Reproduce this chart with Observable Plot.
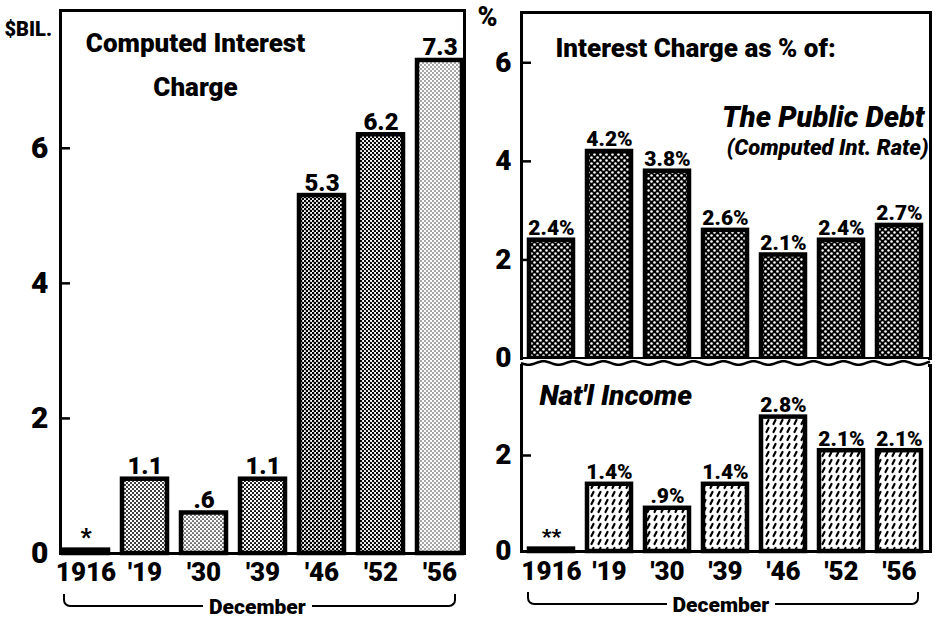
<!DOCTYPE html>
<html>
<head>
<meta charset="utf-8">
<script src="https://cdn.jsdelivr.net/npm/d3@7"></script>
<script src="https://cdn.jsdelivr.net/npm/@observablehq/plot@0.6"></script>
<style>
  html, body { margin: 0; padding: 0; background: #fff; }
  #page { position: relative; width: 938px; height: 619px; overflow: hidden; background: #fff;
          font-family: Roboto, "Liberation Sans", sans-serif; font-weight: 900; color: #000; }
  .brace { position: absolute; border: 2.5px solid #000; border-top: none; border-radius: 0 0 7px 7px; height: 11px; }
  .brace-label { position: absolute; background: #fff; padding: 0 6px; font-size: 21px; line-height: 22px; font-weight: 900; }
</style>
</head>
<body>
<div id="page">
  <svg width="0" height="0" style="position:absolute">
    <defs id="defs"></defs>
  </svg>
</div>
<script>
// ---------- data ----------
const years = ["1916", "'19", "'30", "'39", "'46", "'52", "'56"];
const chargeBil = [0.05, 1.1, 0.6, 1.1, 5.3, 6.2, 7.3];
const chargeLabels = ["*", "1.1", ".6", "1.1", "5.3", "6.2", "7.3"];
const debtPct = [2.4, 4.2, 3.8, 2.6, 2.1, 2.4, 2.7];
const debtLabels = ["2.4%", "4.2%", "3.8%", "2.6%", "2.1%", "2.4%", "2.7%"];
const incomePct = [0.05, 1.4, 0.9, 1.4, 2.8, 2.1, 2.1];
const incomeLabels = ["**", "1.4%", ".9%", "1.4%", "2.8%", "2.1%", "2.1%"];
const leftTicks = [0, 2, 4, 6];
const topTicks = [0, 2, 4, 6];
const bottomTicks = [0, 2];

const FONT = "Roboto, 'Liberation Sans', sans-serif";
const page = document.getElementById("page");
const intFmt = d3.format("d");

// ---------- fill patterns (halftone look) ----------
const defs = d3.select("#defs");
function dots(id, size, r) {
  const p = defs.append("pattern").attr("id", id).attr("width", size).attr("height", size)
    .attr("patternUnits", "userSpaceOnUse");
  p.append("rect").attr("width", size).attr("height", size).attr("fill", "#fff");
  [[size / 4, size / 4], [3 * size / 4, 3 * size / 4]].forEach(([cx, cy]) =>
    p.append("circle").attr("cx", cx).attr("cy", cy).attr("r", r).attr("fill", "#000"));
}
dots("h1916", 4, 1.45);
dots("h19", 4, 1.0);
dots("h30", 4, 0.85);
dots("h39", 4, 1.05);
dots("h46", 4, 1.35);
dots("h52", 4, 1.2);
dots("h56", 4, 0.65);
{ // crosshatch: black lattice with white holes
  const p = defs.append("pattern").attr("id", "hatch").attr("width", 6).attr("height", 6)
    .attr("patternUnits", "userSpaceOnUse");
  p.append("rect").attr("width", 6).attr("height", 6).attr("fill", "#000");
  [[1.5, 1.5], [4.5, 4.5]].forEach(([cx, cy]) =>
    p.append("circle").attr("cx", cx).attr("cy", cy).attr("r", 1.3).attr("fill", "#fff"));
}
{ // slanted dashes
  const p = defs.append("pattern").attr("id", "dash").attr("width", 7).attr("height", 8)
    .attr("patternUnits", "userSpaceOnUse");
  p.append("rect").attr("width", 7).attr("height", 8).attr("fill", "#fff");
  p.append("line").attr("x1", 2.5).attr("y1", 6).attr("x2", 4.5).attr("y2", 2)
    .attr("stroke", "#000").attr("stroke-width", 2.2).attr("stroke-linecap", "round");
}
const leftFills = ["url(#h1916)", "url(#h19)", "url(#h30)", "url(#h39)", "url(#h46)", "url(#h52)", "url(#h56)"];

const leftData = years.map((year, i) => ({year, value: chargeBil[i], label: chargeLabels[i]}));
const debtData = years.map((year, i) => ({year, value: debtPct[i], label: debtLabels[i]}));
const incomeData = years.map((year, i) => ({year, value: incomePct[i], label: incomeLabels[i]}));

const baseStyle = {fontFamily: FONT, fontWeight: 900, color: "#000", background: "transparent", overflow: "visible"};

function place(el, left, top) {
  el.style.position = "absolute";
  el.style.left = left + "px";
  el.style.top = top + "px";
  page.appendChild(el);
}

// ---------- left panel ----------
const left = Plot.plot({
  width: 470, height: 619,
  marginLeft: 60, marginTop: 10, marginRight: 6, marginBottom: 66,
  style: baseStyle,
  x: {domain: years, paddingInner: 0.24, paddingOuter: 0.04, label: null},
  y: {domain: [0, 8.04], label: null},
  color: {type: "ordinal", domain: years, range: leftFills},
  marks: [
    Plot.barY(leftData, {x: "year", y: "value", fill: "year", stroke: "#000", strokeWidth: 4.5}),
    Plot.text(leftData, {x: "year", y: "value", text: "label", dy: -5, lineAnchor: "bottom", fontSize: 24, fontWeight: 900}),
    Plot.axisX({tickSize: 0, tickPadding: 9, fontSize: 26, fontWeight: 900}),
    Plot.axisY(leftTicks, {tickSize: 0, tickPadding: 12, fontSize: 30, fontWeight: 900, tickFormat: intFmt}),
    Plot.axisY(leftTicks, {tickSize: 10, dx: 10, strokeWidth: 2.5, tickFormat: () => ""}),
    Plot.frame({strokeWidth: 3}),
    Plot.text(["Computed Interest\nCharge"], {frameAnchor: "top-left", dx: 135, dy: 10, textAnchor: "middle",
      lineAnchor: "top", lineHeight: 1.7, fontSize: 26, fontWeight: 900}),
    Plot.text(["$BIL."], {frameAnchor: "top-left", dx: -56, dy: 11, textAnchor: "start", lineAnchor: "top", fontSize: 20, fontWeight: 900})
  ]
});
place(left, 0, 0);

// ---------- right top panel (public debt) ----------
const rightTop = Plot.plot({
  width: 468, height: 362,
  marginLeft: 51, marginRight: 8, marginTop: 12, marginBottom: 4,
  style: baseStyle,
  x: {domain: years, paddingInner: 0.24, paddingOuter: 0.1, axis: null},
  y: {domain: [0, 7.02], label: null},
  marks: [
    Plot.barY(debtData, {x: "year", y: "value", fill: "url(#hatch)", stroke: "#000", strokeWidth: 4.5}),
    Plot.text(debtData, {x: "year", y: "value", text: "label", dy: -5, lineAnchor: "bottom", fontSize: 21, fontWeight: 900}),
    Plot.axisY(topTicks, {tickSize: 0, tickPadding: 10, fontSize: 28, fontWeight: 900, tickFormat: intFmt}),
    Plot.axisY(topTicks, {tickSize: 10, dx: 10, strokeWidth: 2.5, tickFormat: () => ""}),
    Plot.frame({strokeWidth: 3}),
    Plot.text(["%"], {frameAnchor: "top-left", dx: -44, dy: -6, textAnchor: "start", lineAnchor: "top", fontSize: 27, fontWeight: 900}),
    Plot.text(["Interest Charge as % of:"], {frameAnchor: "top-left", dx: 34, dy: 26, textAnchor: "start", lineAnchor: "top", fontSize: 26, fontWeight: 900}),
    Plot.text(["The Public Debt"], {frameAnchor: "top-right", dx: -6, dy: 94, textAnchor: "end", lineAnchor: "top", fontSize: 29, fontWeight: 900, fontStyle: "italic"}),
    Plot.text(["(Computed Int. Rate)"], {frameAnchor: "top-right", dx: -2, dy: 127, textAnchor: "end", lineAnchor: "top", fontSize: 22, fontWeight: 900, fontStyle: "italic"})
  ]
});
place(rightTop, 470, 0);

// ---------- right bottom panel (national income) ----------
const rightBottom = Plot.plot({
  width: 468, height: 257,
  marginLeft: 51, marginRight: 8, marginTop: 3, marginBottom: 68,
  style: baseStyle,
  x: {domain: years, paddingInner: 0.24, paddingOuter: 0.1, label: null},
  y: {domain: [0, 3.875], label: null},
  marks: [
    Plot.barY(incomeData, {x: "year", y: "value", fill: "url(#dash)", stroke: "#000", strokeWidth: 4.5}),
    Plot.text(incomeData, {x: "year", y: "value", text: "label", dy: -5, lineAnchor: "bottom", fontSize: 21, fontWeight: 900}),
    Plot.axisX({tickSize: 0, tickPadding: 10, fontSize: 26, fontWeight: 900}),
    Plot.axisY(bottomTicks, {tickSize: 0, tickPadding: 10, fontSize: 28, fontWeight: 900, tickFormat: intFmt}),
    Plot.axisY(bottomTicks, {tickSize: 10, dx: 10, strokeWidth: 2.5, tickFormat: () => ""}),
    Plot.frame({strokeWidth: 3}),
    Plot.text(["Nat'l Income"], {frameAnchor: "top-left", dx: 18, dy: 20, textAnchor: "start", lineAnchor: "top", fontSize: 28, fontWeight: 900, fontStyle: "italic"})
  ]
});
place(rightBottom, 470, 362);

// ---------- wavy break between the two right panels ----------
{
  const w = d3.create("svg").attr("width", 468).attr("height", 14).style("overflow", "visible");
  w.append("rect").attr("x", 53).attr("y", 1).attr("width", 405).attr("height", 9).attr("fill", "#fff");
  const xs = d3.range(51, 461, 1);
  const line = d3.line().x(x => x).y(x => 5 + 1.8 * Math.sin((x - 51) / 30 * 2 * Math.PI)).curve(d3.curveBasis);
  w.append("path").attr("d", line(xs)).attr("fill", "none").attr("stroke", "#000").attr("stroke-width", 2.5);
  place(w.node(), 470, 358);
}

// ---------- "December" braces ----------
function brace(x, w, top) {
  const b = document.createElement("div");
  b.className = "brace";
  b.style.left = x + "px"; b.style.top = top + "px"; b.style.width = w + "px";
  page.appendChild(b);
  const t = document.createElement("div");
  t.className = "brace-label";
  t.textContent = "December";
  page.appendChild(t);
  const tw = t.offsetWidth;
  t.style.left = (x + w / 2 - tw / 2) + "px";
  t.style.top = (top + 2) + "px";
}
brace(63, 389, 594);
brace(527, 388, 592);
</script>
</body>
</html>
